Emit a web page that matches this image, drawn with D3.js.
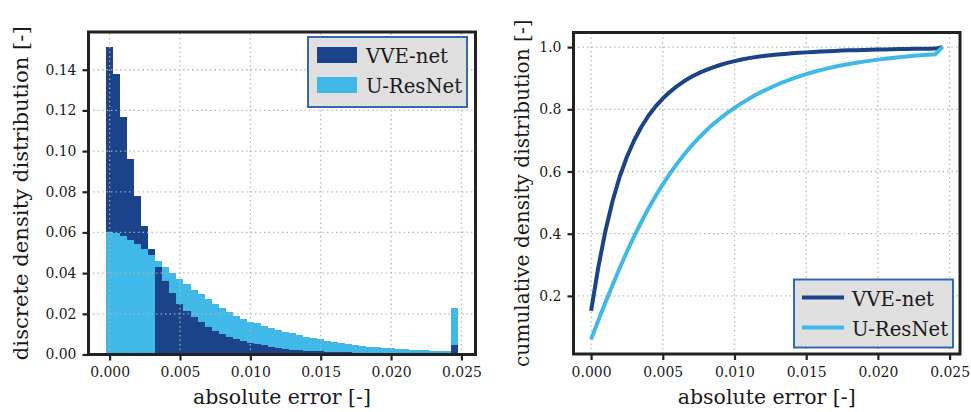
<!DOCTYPE html>
<html>
<head>
<meta charset="utf-8">
<script src="https://cdn.jsdelivr.net/npm/d3@7"></script>
<style>
  body { margin: 0; background: #fff; }
  svg text { font-family: "DejaVu Serif", "Liberation Serif", "Times New Roman", serif; fill: #1a1a1a; }
</style>
</head>
<body>
<div id="chart"></div>
<script>
// bin centres of the error histogram
const errorBins = [
  0.0000, 0.0005, 0.0010, 0.0015, 0.0020, 0.0025, 0.0030, 0.0035, 0.0040, 0.0045,
  0.0050, 0.0055, 0.0060, 0.0065, 0.0070, 0.0075, 0.0080, 0.0085, 0.0090, 0.0095,
  0.0100, 0.0105, 0.0110, 0.0115, 0.0120, 0.0125, 0.0130, 0.0135, 0.0140, 0.0145,
  0.0150, 0.0155, 0.0160, 0.0165, 0.0170, 0.0175, 0.0180, 0.0185, 0.0190, 0.0195,
  0.0200, 0.0205, 0.0210, 0.0215, 0.0220, 0.0225, 0.0230, 0.0235, 0.0240, 0.0245
];
const binWidth = 0.0005;

const vveNet = [
  0.151, 0.138, 0.117, 0.096, 0.078, 0.063, 0.052, 0.043, 0.036, 0.030,
  0.025, 0.0215, 0.0185, 0.016, 0.0135, 0.0115, 0.010, 0.0086, 0.0076, 0.0067,
  0.0057, 0.0050, 0.0045, 0.0036, 0.0031, 0.0026, 0.0022, 0.0020, 0.0018, 0.0016,
  0.0015, 0.0014, 0.0012, 0.0011, 0.0010, 0.0009, 0.0008, 0.0007, 0.0007, 0.0006,
  0.0006, 0.0005, 0.0005, 0.0004, 0.0004, 0.0004, 0.0003, 0.0003, 0.0003, 0.0047
];
const uResNet = [
  0.060, 0.0595, 0.0584, 0.0564, 0.0544, 0.052, 0.049, 0.0461, 0.0431, 0.0401,
  0.0372, 0.0347, 0.0318, 0.0298, 0.0273, 0.0249, 0.0229, 0.0209, 0.019, 0.0175,
  0.016, 0.0153, 0.0138, 0.0129, 0.0119, 0.0109, 0.0104, 0.0094, 0.0084, 0.0079,
  0.0074, 0.0067, 0.0062, 0.0057, 0.0052, 0.0047, 0.0042, 0.0037, 0.0037, 0.0032,
  0.0032, 0.0027, 0.0027, 0.0022, 0.0022, 0.0022, 0.0017, 0.0017, 0.0017, 0.0229
];

const seriesNames = ["VVE-net", "U-ResNet"];
const seriesColors = ["#1b4389", "#40b9e9"];
const xTicks = [0, 0.005, 0.010, 0.015, 0.020, 0.025];
const histTicks = [0, 0.02, 0.04, 0.06, 0.08, 0.10, 0.12, 0.14];
const cdfTicks = [0.2, 0.4, 0.6, 0.8, 1.0];

const W = 971, H = 412;
const svg = d3.select("#chart").append("svg").attr("width", W).attr("height", H);

const frameColor = "#222";

// scale a text's font so its width matches the width seen in the reference
function fitSize(sel, base, target) {
  sel.attr("font-size", base);
  let len = sel.node().getComputedTextLength();
  let s = base * target / len;
  sel.attr("font-size", s);
  return s;
}

// one size for all tick labels, "0.000" is ~40px wide in the reference
const probe = svg.append("text").text("0.000");
const tickFont = fitSize(probe, 17.5, 40);
probe.remove();
const probe2 = svg.append("text").text("VVE-net");
const legendFont = fitSize(probe2, 21, 82);
probe2.remove();

function grid(g, x, y, xt, yt) {
  let gg = g.append("g")
    .attr("stroke", "#b4b4b4").attr("stroke-width", 1.3)
    .attr("stroke-dasharray", "1.5,3").attr("opacity", 0.9);
  gg.selectAll("line.v").data(xt).enter().append("line")
    .attr("x1", d => x(d)).attr("x2", d => x(d))
    .attr("y1", y.range()[0]).attr("y2", y.range()[1]);
  gg.selectAll("line.h").data(yt).enter().append("line")
    .attr("y1", d => y(d)).attr("y2", d => y(d))
    .attr("x1", x.range()[0]).attr("x2", x.range()[1]);
}

function axes(g, x, y, xt, yt, xfmt, yfmt, ylabel, ylen, ybase) {
  let xa = g.append("g").attr("transform", `translate(0,${y.range()[0]})`)
    .call(d3.axisBottom(x).tickValues(xt).tickFormat(d3.format(xfmt)).tickSize(6).tickPadding(7));
  let ya = g.append("g").attr("transform", `translate(${x.range()[0]},0)`)
    .call(d3.axisLeft(y).tickValues(yt).tickFormat(d3.format(yfmt)).tickSize(6).tickPadding(6));
  [xa, ya].forEach(a => {
    a.attr("font-family", null);
    a.select(".domain").remove();
    a.selectAll("line").attr("stroke", frameColor).attr("stroke-width", 2.2);
    a.selectAll("text").attr("font-size", tickFont).attr("fill", "#1a1a1a");
  });
  // frame
  g.append("rect")
    .attr("x", x.range()[0]).attr("y", y.range()[1])
    .attr("width", x.range()[1] - x.range()[0]).attr("height", y.range()[0] - y.range()[1])
    .attr("fill", "none").attr("stroke", frameColor).attr("stroke-width", 3);
  let xl = g.append("text")
    .attr("x", (x.range()[0] + x.range()[1]) / 2).attr("y", 404)
    .attr("text-anchor", "middle")
    .text("absolute error [-]");
  fitSize(xl, 24.5, 178);
  let yl = g.append("text")
    .attr("transform", `translate(${ybase},${(y.range()[0] + y.range()[1]) / 2}) rotate(-90)`)
    .attr("text-anchor", "middle")
    .text(ylabel);
  fitSize(yl, 24.5, ylen);
}

function legend(g, x0, y0, w, h, kind) {
  g.append("rect").attr("x", x0).attr("y", y0).attr("width", w).attr("height", h)
    .attr("fill", "#e0e0e0").attr("stroke", "#3469b1").attr("stroke-width", 2);
  seriesNames.forEach((name, i) => {
    let cy = y0 + 18 + i * 30;
    if (kind === "patch") {
      g.append("rect").attr("x", x0 + 9).attr("y", cy - 8).attr("width", 40).attr("height", 16)
        .attr("fill", seriesColors[i]);
    } else {
      g.append("line").attr("x1", x0 + 8).attr("x2", x0 + 50).attr("y1", cy).attr("y2", cy)
        .attr("stroke", seriesColors[i]).attr("stroke-width", 4);
    }
    g.append("text").attr("x", x0 + 58).attr("y", cy + 8)
      .attr("font-size", legendFont).text(name);
  });
}

// ---- left: discrete density histogram ----
const left = svg.append("g");
const xL = d3.scaleLinear().domain([-0.0015, 0.026]).range([88.5, 475.5]);
const yL = d3.scaleLinear().domain([0, d3.max(vveNet) * 1.05]).range([354.5, 32]);

const binData = errorBins.map((c, i) => {
  let pair = [
    { c: c, v: vveNet[i], col: seriesColors[0] },
    { c: c, v: uResNet[i], col: seriesColors[1] }
  ];
  // taller bar first, shorter one on top
  return pair.sort((a, b) => b.v - a.v);
});

left.append("g").attr("shape-rendering", "crispEdges")
  .selectAll("rect").data(binData.flat()).enter().append("rect")
  .attr("x", d => xL(d.c - binWidth / 2))
  .attr("width", d => xL(d.c + binWidth / 2) - xL(d.c - binWidth / 2))
  .attr("y", d => yL(d.v))
  .attr("height", d => yL(0) - yL(d.v))
  .attr("fill", d => d.col);

grid(left, xL, yL, xTicks, histTicks);
axes(left, xL, yL, xTicks, histTicks, ".3f", ".2f", "discrete density distribution [-]", 334, 28);
legend(left, 308, 37, 159, 70, "patch");

// ---- right: cumulative density ----
const right = svg.append("g");
const cdfV = Array.from(d3.cumsum(vveNet), v => v / d3.sum(vveNet));
const cdfU = Array.from(d3.cumsum(uResNet), v => v / d3.sum(uResNet));
const cdfMin = d3.min(cdfU), cdfMax = 1;
const pad = (cdfMax - cdfMin) * 0.05;
const xpad = (errorBins[errorBins.length - 1] - errorBins[0]) * 0.05;
const xR = d3.scaleLinear().domain([errorBins[0] - xpad, errorBins[errorBins.length - 1] + xpad]).range([573.5, 960]);
const yR = d3.scaleLinear().domain([cdfMin - pad, cdfMax + pad]).range([354, 32.5]);

grid(right, xR, yR, xTicks, cdfTicks);

const line = d3.line().x((d, i) => xR(errorBins[i])).y(d => yR(d));
[cdfV, cdfU].forEach((s, i) => {
  right.append("path").datum(s)
    .attr("d", line).attr("fill", "none")
    .attr("stroke", seriesColors[i]).attr("stroke-width", 4)
    .attr("stroke-linejoin", "round");
});

axes(right, xR, yR, xTicks, cdfTicks, ".3f", ".1f", "cumulative density distribution [-]", 348, 529);
legend(right, 794, 279.5, 159, 68, "line");
</script>
</body>
</html>
